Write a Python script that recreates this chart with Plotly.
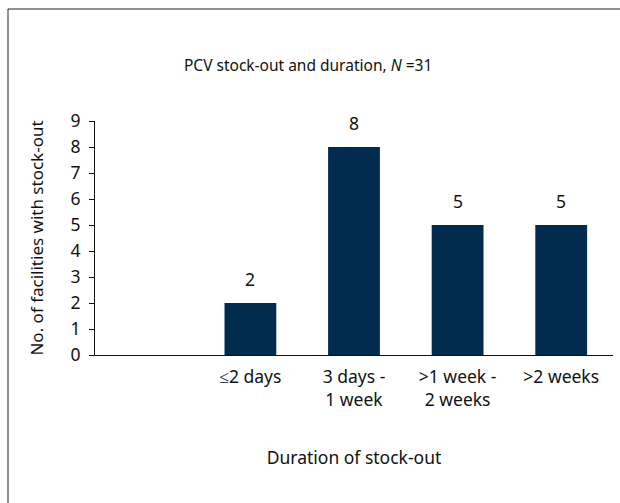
import plotly.graph_objects as go

categories = ["", "≤2 days", "3 days -<br>1 week", ">1 week -<br>2 weeks", ">2 weeks"]
values = [None, 2, 8, 5, 5]
labels = ["", "2", "8", "5", "5"]

L, R, T, B = 95, 7, 121, 148
W, H = 620, 503
pw, ph = W - L - R, H - T - B

fig = go.Figure()
fig.add_trace(go.Bar(
    x=categories, y=values,
    marker=dict(color="#022b50", line=dict(width=0)),
    width=0.5, hoverinfo="skip",
))

for c, v, t in zip(categories, values, labels):
    if v is None:
        continue
    fig.add_annotation(x=c, y=v, text=t, showarrow=False, yanchor="bottom",
                       yshift=10, font=dict(size=17.5, color="#111"))

def px_x(p):
    return (p - L) / pw

def px_y(p):
    return (H - B - p) / ph

fig.add_shape(type="rect", xref="paper", yref="paper",
              x0=px_x(8), x1=px_x(640), y0=px_y(530), y1=px_y(9),
              line=dict(color="#222", width=1), fillcolor="rgba(0,0,0,0)")

fig.update_layout(
    width=W, height=H,
    margin=dict(l=L, r=R, t=T, b=B),
    paper_bgcolor="white", plot_bgcolor="white",
    font=dict(family="Noto Sans", size=17, color="#111"),
    showlegend=False,
    title=dict(text="PCV stock-out and duration, <i>N</i> =31", x=0.497, xref="container",
               xanchor="center", y=1 - 66 / H, yanchor="middle", font=dict(size=15.5)),
    xaxis=dict(showline=True, linecolor="#111", linewidth=1, ticks="",
               showgrid=False, tickfont=dict(size=17.5), ticklabelstandoff=6,
               title=dict(text="Duration of stock-out", standoff=41, font=dict(size=17.5))),
    yaxis=dict(range=[0, 9], dtick=1, showline=True, linecolor="#111", linewidth=1,
               ticks="outside", ticklen=5, tickcolor="#111", showgrid=False,
               zeroline=False, tickfont=dict(size=17.5), ticklabelstandoff=5,
               title=dict(text="No. of facilities with stock-out", standoff=22, font=dict(size=17))),
)

fig.write_html("out.html", config={"displayModeBar": False},
               post_script="document.body.style.margin='0';document.body.style.overflow='hidden';")
